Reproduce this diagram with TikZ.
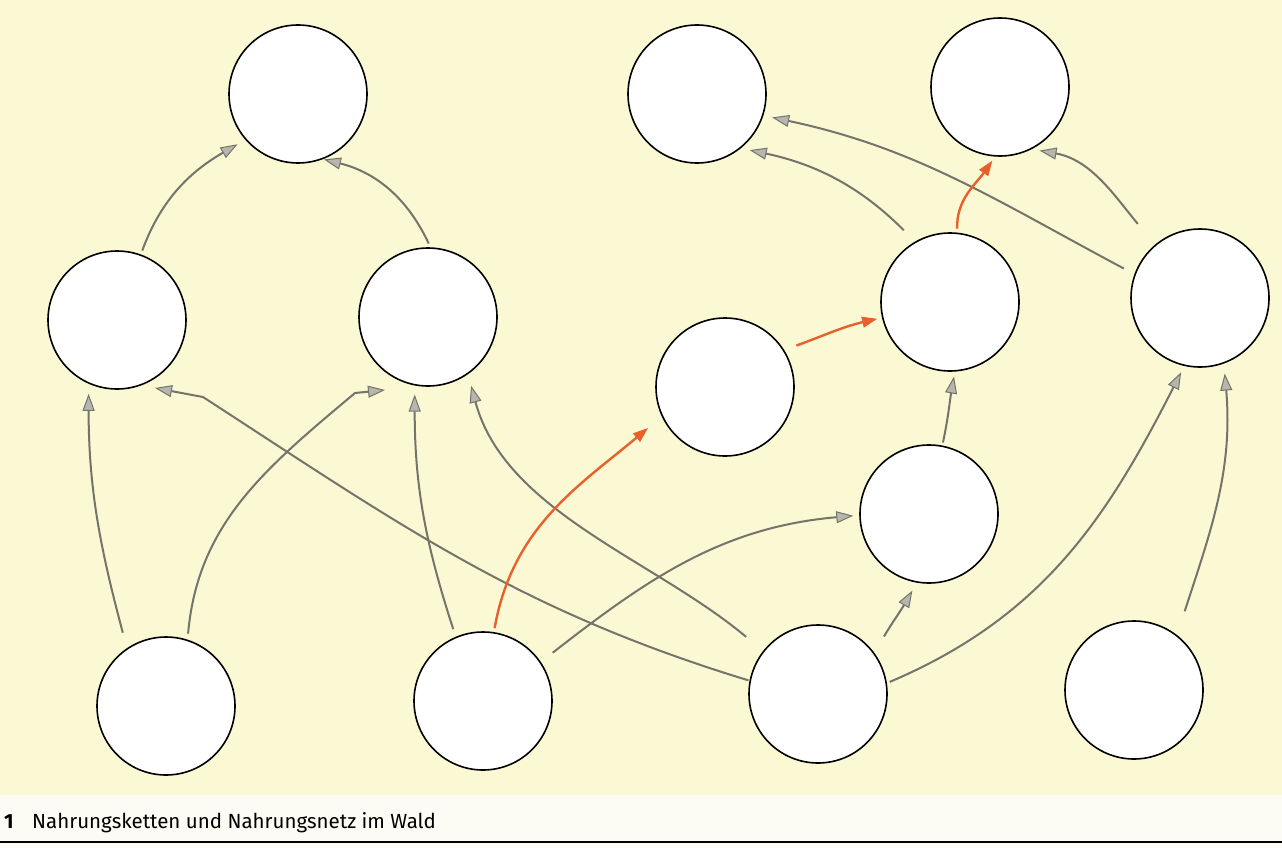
\documentclass[tikz,border=0pt]{standalone}
\usepackage{fontspec}
\setmainfont{Fira Sans}
\usetikzlibrary{arrows.meta}
\definecolor{paper}{HTML}{FBF8D4}
\definecolor{band}{HTML}{FDFCF4}
\definecolor{linkgray}{HTML}{74746A}
\definecolor{tipgray}{HTML}{B6B6AE}
\definecolor{linkred}{HTML}{E8602C}
\tikzset{
  organism/.style={circle, draw=black, line width=1.6pt, fill=white, minimum size=138pt, inner sep=0pt},
  link/.style={draw=linkgray, line width=2pt,
    -{Triangle[length=17pt,width=12pt,fill=tipgray,line width=1pt]}},
  redlink/.style={draw=linkred, line width=2.4pt,
    -{Triangle[length=15pt,width=11pt,fill=linkred,line width=1pt]}},
  gaps/.style 2 args={shorten <=#1pt, shorten >=#2pt},
}
\begin{document}
\begin{tikzpicture}[x=1pt,y=1pt]
  \useasboundingbox (0,0) rectangle (1282,-848);
  % page ground and caption band
  \fill[paper] (0,0) rectangle (1282,-795);
  \fill[band] (0,-795) rectangle (1282,-848);
  \draw[black, line width=1.4pt] (0,-842) -- (1282,-842);

  % organisms
  \node[organism] (n1)  at (298,-94)  {};
  \node[organism] (n2)  at (697,-94)  {};
  \node[organism] (n3)  at (1000,-87) {};
  \node[organism] (n4)  at (117,-320) {};
  \node[organism] (n5)  at (428,-317) {};
  \node[organism] (n6)  at (725,-387) {};
  \node[organism] (n7)  at (950,-302) {};
  \node[organism] (n8)  at (1200,-298) {};
  \node[organism] (n9)  at (929,-514) {};
  \node[organism] (n10) at (166,-706) {};
  \node[organism] (n11) at (483,-701) {};
  \node[organism] (n12) at (818,-694) {};
  \node[organism] (n13) at (1134,-690) {};

  % bends and tips of the two kinked links
  \coordinate (k4) at (355,-393);
  \coordinate (t4) at ([shift={(-43,-73)}]n5.center);
  \coordinate (k7) at (203,-397);
  \coordinate (t7) at ([shift={(38,-68)}]n4.center);

  % feeding relations
  \draw[link, gaps={4}{9}]  (n4.70)    to[out=70,in=210]   (n1.-139);
  \draw[link, gaps={4}{1}]  (n5.88)    to[out=115,in=-14]  (n1.-69);
  \draw[link, gaps={16}{10}] (n10.124) to[out=105,in=-90]  (n4.-114);
  \draw[link, gaps={6}{0}]  (n10.72)   to[out=85,in=220]   (k4) -- (t4);
  \draw[link, gaps={8}{9}]  (n11.113)  to[out=108,in=-90]  (n5.-101);
  \draw[link, gaps={22}{12}] (n12.142) to[out=140,in=-75,looseness=0.9] (n5.-55);
  \draw[link, gaps={1}{0}]  (n12.169)  to[out=163,in=-33]  (k7) -- (t7);
  \draw[link, gaps={15}{6}] (n11.34)   to[out=38,in=185]   (n9.-179);
  \draw[link, gaps={19}{9}] (n12.36)   to[out=60,in=-120]  (n9.-100);
  \draw[link, gaps={3}{7}]  (n12.9)    to[out=23,in=-117]  (n8.-103);
  \draw[link, gaps={25}{10}] (n13.52)  to[out=72,in=-85]   (n8.-70);
  \draw[link, gaps={3}{5}]  (n9.79)    to[out=78,in=-100]  (n7.-86);
  \draw[link, gaps={16}{9}] (n7.120)   to[out=135,in=-12]  (n2.-51);
  \draw[link, gaps={12}{9}] (n8.160)   to[out=152,in=-12]  (n2.-18);
  \draw[link, gaps={27}{8}] (n8.130)   to[out=130,in=-10]  (n3.-63);

  % highlighted food chain
  \draw[redlink, gaps={4}{18}] (n11.81) to[out=80,in=220]  (n6.205);
  \draw[redlink, gaps={13}{5}] (n6.32)  to[out=20,in=193]  (n7.193);
  \draw[redlink, gaps={4}{5}]  (n7.84)  to[out=92,in=-125] (n3.-94);

  % caption
  \node[anchor=base west, inner sep=0pt, font=\fontsize{20.5}{24}\selectfont\bfseries] (num) at (4,-828) {1};
  \node[anchor=base west, inner sep=0pt, font=\fontsize{20.5}{24}\selectfont] (cap) at (32,-828) {Nahrungsketten und Nahrungsnetz im Wald};
\end{tikzpicture}
\end{document}
